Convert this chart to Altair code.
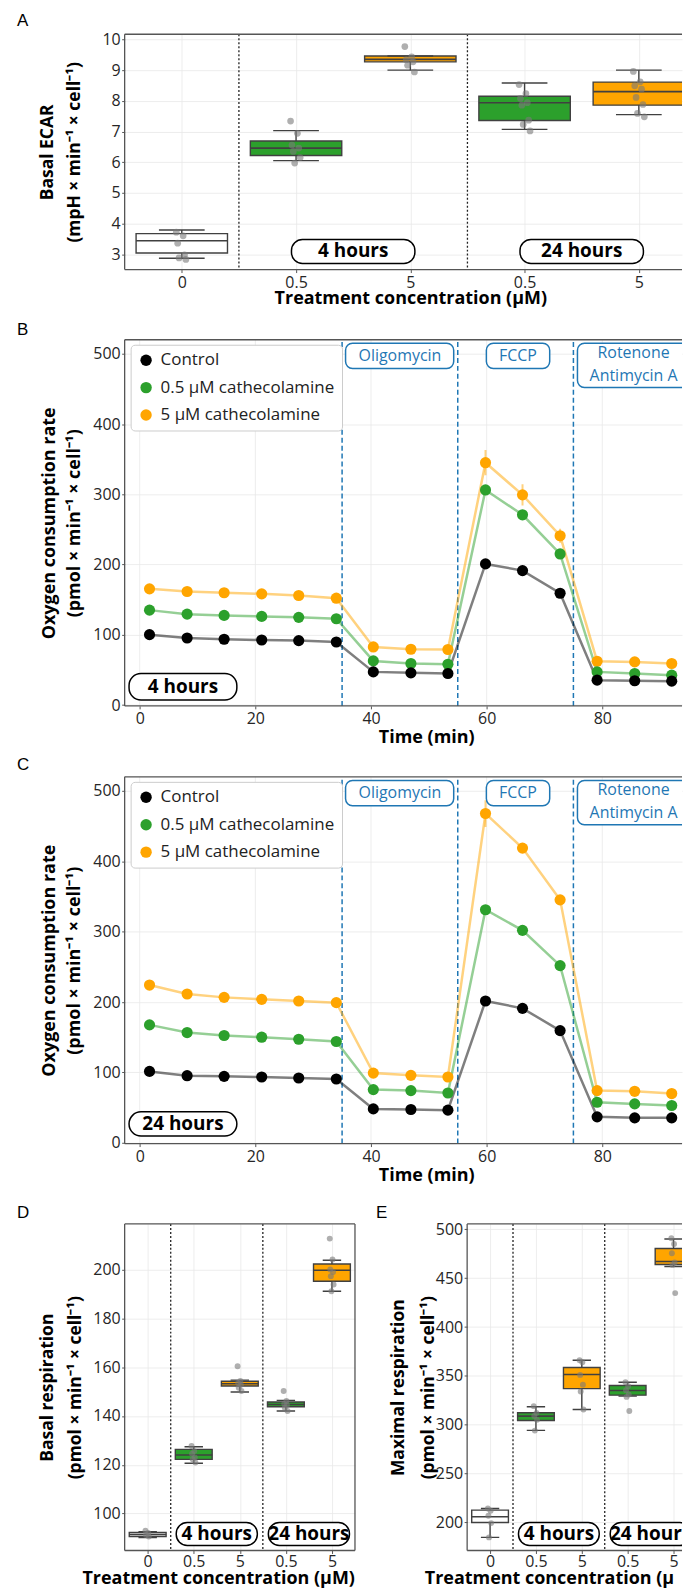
import altair as alt
import pandas as pd

FONT = "Open Sans"
GREEN = "#2ca02c"
ORANGE = "#ffa500"
BLUE = "#1f77b4"
EDGE = "#404040"
GRID = "#e9e9e9"
FRAME = "#555555"

# ---------------- categories (panels A, D, E) ----------------
cat_labels = ["0", "0.5", "5", "0.5", "5"]
cat_group = ["ctrl", "low", "high", "low", "high"]
pill_labels = ["4 hours", "24 hours"]
pill_centers = [1.5, 3.5]
sep_positions = [0.5, 2.5]

# ---------------- Panel A: basal ECAR ----------------
ecar_q1 = [3.04, 6.22, 9.27, 7.36, 7.86]
ecar_med = [3.44, 6.46, 9.35, 7.94, 8.30]
ecar_q3 = [3.67, 6.69, 9.46, 8.15, 8.61]
ecar_lo = [2.87, 6.05, 9.00, 7.07, 7.55]
ecar_hi = [3.79, 7.03, 9.46, 8.58, 9.00]
ecar_pts = [
    [3.72, 3.60, 3.36, 2.98, 2.88, 2.83],
    [7.34, 6.94, 6.56, 6.46, 6.35, 6.15, 5.97],
    [9.77, 9.43, 9.34, 9.27, 9.16, 8.94],
    [8.53, 8.24, 8.08, 7.94, 7.86, 7.37, 7.23, 7.02],
    [8.96, 8.62, 8.49, 8.38, 8.11, 7.88, 7.59, 7.48],
]

# ---------------- Panel D: basal respiration ----------------
basal_q1 = [90.6, 122.2, 152.3, 143.8, 195.2]
basal_med = [91.4, 124.0, 153.2, 144.7, 199.7]
basal_q3 = [92.2, 126.3, 154.2, 145.7, 202.3]
basal_lo = [90.2, 120.6, 149.8, 142.0, 191.1]
basal_hi = [92.6, 127.4, 154.7, 146.4, 203.8]
basal_pts = [
    [93.0, 92.0, 91.2, 90.6],
    [127.7, 125.6, 124.5, 123.0, 122.3, 120.9],
    [160.4, 154.3, 153.5, 152.8, 151.6, 150.2],
    [150.2, 146.1, 145.0, 144.5, 143.4, 142.0],
    [212.7, 204.1, 200.0, 199.0, 197.3, 193.9, 191.1],
]

# ---------------- Panel E: maximal respiration ----------------
max_q1 = [200.0, 304.4, 337.0, 330.3, 464.0]
max_med = [205.8, 308.8, 351.4, 335.0, 467.0]
max_q3 = [212.6, 312.2, 358.5, 340.1, 480.3]
max_lo = [184.7, 294.2, 315.6, 329.3, 461.9]
max_hi = [214.3, 318.4, 366.0, 343.5, 490.1]
max_pts = [
    [214.3, 212.0, 206.8, 199.3, 184.7],
    [319.0, 312.0, 309.0, 305.0, 294.0],
    [366.0, 364.0, 351.0, 341.0, 334.0, 315.6],
    [343.5, 339.5, 335.4, 331.0, 328.5, 314.0],
    [490.8, 485.0, 475.5, 466.0, 463.6, 434.7],
]

# ---------------- Panels B, C: OCR time courses ----------------
times = [1.7, 8.2, 14.6, 21.1, 27.5, 34.0, 40.4, 46.9, 53.3, 59.8, 66.2, 72.7, 79.1, 85.6, 92.0]
series_names = ["Control", "0.5 µM cathecolamine", "5 µM cathecolamine"]
series_colors = ["black", GREEN, ORANGE]

ocr4_ctrl = [100.2, 95.4, 93.6, 92.6, 91.7, 89.8, 47.2, 45.8, 44.9, 200.9, 191.4, 159.2, 35.4, 34.5, 34.0]
ocr4_low = [135.1, 129.4, 127.6, 126.2, 124.8, 122.9, 62.8, 59.1, 58.1, 306.2, 270.8, 215.1, 47.2, 44.9, 42.5]
ocr4_high = [165.4, 161.6, 159.8, 158.3, 156.0, 152.1, 82.7, 79.4, 79.0, 345.0, 299.2, 241.0, 62.4, 61.4, 59.1]
ocr4_ctrl_err = [3, 3, 3, 3, 3, 3, 2, 2, 2, 5, 5, 4, 2, 2, 2]
ocr4_low_err = [3, 3, 3, 3, 3, 3, 2, 2, 2, 6, 5, 5, 2, 2, 2]
ocr4_high_err = [3, 3, 3, 3, 3, 3, 2, 2, 2, 18, 15, 10, 2, 2, 2]

ocr24_ctrl = [101.4, 95.3, 94.4, 93.4, 92.0, 90.6, 48.1, 47.2, 46.3, 201.5, 191.0, 159.4, 36.8, 35.4, 35.4]
ocr24_low = [167.5, 156.6, 152.4, 150.0, 147.1, 143.9, 75.5, 74.1, 70.7, 331.1, 301.9, 251.8, 57.6, 55.2, 52.9]
ocr24_high = [224.1, 211.4, 206.6, 203.8, 201.5, 199.1, 99.0, 95.8, 93.4, 467.9, 418.8, 345.2, 74.1, 73.1, 69.9]
ocr24_ctrl_err = [3, 3, 3, 3, 3, 3, 2, 2, 2, 5, 5, 4, 2, 2, 2]
ocr24_low_err = [4, 4, 4, 4, 4, 4, 2, 2, 2, 6, 5, 5, 2, 2, 2]
ocr24_high_err = [4, 4, 4, 4, 4, 4, 2, 2, 2, 19, 6, 6, 2, 2, 2]

inject_times = [35, 55, 75]
inject_names = ["Oligomycin", "FCCP", "Rotenone", "Antimycin A"]
inject_text_x = [45.0, 65.4, 85.4, 85.4]
inject_text_y = [497, 497, 501, 468]
inject_box_x1 = [35.6, 59.95, 75.7]
inject_box_x2 = [54.3, 70.9, 95.1]
inject_box_y1 = [479, 479, 452]
inject_box_y2 = [515, 515, 515]
time_ticks = [0, 20, 40, 60, 80]
ocr_ticks = [0, 100, 200, 300, 400, 500]
OCR_TOP = 520
OCR_FRAME_LO = -1.2
MIN_PX = 5.8          # pixels per minute
CAT_STEP_A = 114.6    # pixels per category in panel A
CAT_STEP_DE = 46.0    # pixels per category in panels D/E
XTITLE = "Treatment concentration (µM)"
PLOT_LEFT = 124
D_W = 231
DE_GAP = 112.5
RIGHT_EDGE = 683
DE_H = 327.5


def letter_layer(letter, x, y):
    return alt.Chart(pd.DataFrame({"t": [letter]})).mark_text(
        align="left", baseline="middle", fontSize=17, font="Liberation Sans", color="black"
    ).encode(text="t:N", x=alt.value(x), y=alt.value(y))


def frame_layer(xmin, xmax, ylo, yhi, xs, ys, xaxis, yaxis, right):
    x1 = [xmin, xmin, xmin]
    x2 = [xmax, xmax, xmin]
    y1 = [yhi, ylo, ylo]
    y2 = [yhi, ylo, yhi]
    if right:
        x1.append(xmax); x2.append(xmax); y1.append(ylo); y2.append(yhi)
    return alt.Chart(pd.DataFrame({"x1": x1, "x2": x2, "y1": y1, "y2": y2})).mark_rule(
        color=FRAME, strokeWidth=1.3).encode(
        x=alt.X("x1:Q", scale=xs, axis=xaxis), x2="x2:Q",
        y=alt.Y("y1:Q", scale=ys, axis=yaxis), y2="y2:Q")


def box_panel(q1, med, q3, lo, hi, pts, ydom, yticks, ytitle, title_x, title_lh,
              pill_lo, pill_hi, pill_half, letter, letter_x, letter_y,
              width, height, dot_size, step, cut_right, xtitle_left, plot_left):
    n = len(cat_labels)
    idx = list(range(n))
    xmax = -0.5 + width / step if cut_right else n - 0.5
    bdf = pd.DataFrame({"idx": idx, "grp": cat_group, "q1": q1, "med": med,
                        "q3": q3, "lo": lo, "hi": hi})
    prow = []
    for i, vals in enumerate(pts):
        for k, v in enumerate(vals):
            prow.append({"idx": i, "k": k, "v": v})
    pdf = pd.DataFrame(prow)
    xs = alt.Scale(domain=[-0.5, xmax], nice=False, zero=False)
    ys = alt.Scale(domain=ydom, nice=False, zero=False)
    lab_expr = "[" + ",".join("'%s'" % c for c in cat_labels) + "][datum.value]"
    if xtitle_left is None:
        xaxis = alt.Axis(values=idx, labelExpr=lab_expr, title=XTITLE,
                         grid=True, titlePadding=0, titleX=2.5 * step)
    else:
        xaxis = alt.Axis(values=idx, labelExpr=lab_expr, title="", grid=True,
                         labelPadding=0.5)
    yaxis = alt.Axis(values=yticks, title=ytitle, titleX=title_x, titleY=height / 2,
                     titleAngle=270, titleAlign="center", titleBaseline="middle",
                     titleLineHeight=title_lh, grid=True)

    base = alt.Chart(bdf).transform_calculate(
        xl="datum.idx - 0.4", xr="datum.idx + 0.4",
        cl="datum.idx - 0.2", cr="datum.idx + 0.2")
    X = lambda f: alt.X(f, scale=xs, axis=xaxis)
    Y = lambda f: alt.Y(f, scale=ys, axis=yaxis)
    boxes = base.mark_rect(stroke=EDGE, strokeWidth=1.4, clip=True).encode(
        x=X("xl:Q"), x2="xr:Q", y=Y("q1:Q"), y2="q3:Q",
        fill=alt.Fill("grp:N", scale=alt.Scale(domain=["ctrl", "low", "high"],
                                               range=["white", GREEN, ORANGE]), legend=None))
    w_lo = base.mark_rule(color=EDGE, strokeWidth=1.4, clip=True).encode(
        x=X("idx:Q"), y=Y("lo:Q"), y2="q1:Q")
    w_hi = base.mark_rule(color=EDGE, strokeWidth=1.4, clip=True).encode(
        x=X("idx:Q"), y=Y("q3:Q"), y2="hi:Q")
    caps = base.transform_fold(["lo", "hi"], as_=["w", "val"]).mark_rule(
        color=EDGE, strokeWidth=1.4, clip=True).encode(
        x=X("cl:Q"), x2="cr:Q", y=Y("val:Q"))
    meds = base.mark_rule(color=EDGE, strokeWidth=1.6, clip=True).encode(
        x=X("xl:Q"), x2="xr:Q", y=Y("med:Q"))
    dots = alt.Chart(pdf).transform_calculate(
        xj="datum.idx + ((datum.k * 5) % 9 - 4) * 0.012"
    ).mark_circle(size=dot_size, color="#7a7a7a", opacity=0.6, clip=True).encode(
        x=X("xj:Q"), y=Y("v:Q"))
    seps = alt.Chart(pd.DataFrame({"s": sep_positions})).mark_rule(
        color="#222222", strokeDash=[2, 2], strokeWidth=1.3).encode(x=X("s:Q"))
    pill_df = pd.DataFrame({"c": pill_centers, "t": pill_labels,
                            "y1": [pill_lo] * 2, "y2": [pill_hi] * 2})
    pill_base = alt.Chart(pill_df).transform_calculate(
        a="datum.c - %f" % pill_half, b="datum.c + %f" % pill_half,
        ym="(datum.y1 + datum.y2) / 2")
    pills = pill_base.mark_rect(fill="white", stroke="black", strokeWidth=1.5,
                                cornerRadius=11, clip=True).encode(
        x=X("a:Q"), x2="b:Q", y=Y("y1:Q"), y2="y2:Q")
    pill_txt = pill_base.mark_text(fontSize=19, fontWeight="bold", color="black",
                                   baseline="middle", clip=True).encode(
        x=X("c:Q"), y=Y("ym:Q"), text="t:N")
    frame = frame_layer(-0.5, xmax, ydom[0], ydom[1], xs, ys, xaxis, yaxis, not cut_right)
    layers = [boxes, w_lo, w_hi, caps, meds, dots, seps, pills, pill_txt, frame,
              letter_layer(letter, letter_x, letter_y)]
    if xtitle_left is not None:
        layers.append(alt.Chart(pd.DataFrame({"t": [XTITLE]})).mark_text(
            align="left", baseline="middle", fontSize=18, fontWeight="bold", font=FONT,
            color="black", limit=RIGHT_EDGE - plot_left - xtitle_left, ellipsis="\u200a"
        ).encode(text="t:N", x=alt.value(xtitle_left), y=alt.value(height + 28.5)))
    return alt.layer(*layers).properties(width=width, height=height)


def ocr_panel(vals, errs, height, ext, pill_lo, pill_hi, pill_text, letter, letter_y, width):
    rows = []
    nser = len(series_names)
    for s_i, (name, v_list, e_list) in enumerate(zip(series_names, vals, errs)):
        for t, v, e in zip(times, v_list, e_list):
            rows.append({"t": t, "v": v, "elo": v - e, "ehi": v + e,
                         "series": name, "ord": nser - s_i})
    df = pd.DataFrame(rows)
    px_per = height / (OCR_TOP - OCR_FRAME_LO)
    ylo = OCR_FRAME_LO - ext / px_per
    tmin = -2.6
    tmax = tmin + width / MIN_PX
    xs = alt.Scale(domain=[tmin, tmax], nice=False, zero=False)
    ys = alt.Scale(domain=[ylo, OCR_TOP], nice=False, zero=False)
    cscale = alt.Scale(domain=series_names, range=series_colors)
    xaxis = alt.Axis(values=time_ticks, title="Time (min)", grid=False, offset=-ext,
                     titlePadding=2.5, titleX=287.5 + 15)
    yaxis = alt.Axis(values=ocr_ticks, grid=True,
                     title=["Oxygen consumption rate", "(pmol × min⁻¹ × cell⁻¹)"],
                     titleX=-75, titleY=height / 2, titleAngle=270, titleAlign="center",
                     titleBaseline="middle", titleLineHeight=25, titleFontSize=18)
    X = lambda f: alt.X(f, scale=xs, axis=xaxis)
    Y = lambda f: alt.Y(f, scale=ys, axis=yaxis)

    xgrid = alt.Chart(pd.DataFrame({"x": time_ticks, "y1": OCR_FRAME_LO, "y2": OCR_TOP})).mark_rule(
        color=GRID, strokeWidth=0.8).encode(x=X("x:Q"), y=Y("y1:Q"), y2="y2:Q")
    dashes = alt.Chart(pd.DataFrame({"x": inject_times, "y1": OCR_FRAME_LO, "y2": OCR_TOP})).mark_rule(
        color=BLUE, strokeWidth=1.5, strokeDash=[5, 3]).encode(x=X("x:Q"), y=Y("y1:Q"), y2="y2:Q")
    layers = [xgrid, dashes]
    for name, col in zip(series_names, series_colors):
        sub = alt.Chart(df).transform_filter(alt.datum.series == name)
        layers.append(sub.mark_line(strokeWidth=2.5, opacity=0.5, color=col, clip=True).encode(
            x=X("t:Q"), y=Y("v:Q")))
        layers.append(sub.mark_rule(strokeWidth=2, opacity=0.5, color=col, clip=True).encode(
            x=X("t:Q"), y=Y("elo:Q"), y2="ehi:Q"))
    pts = alt.Chart(df).mark_circle(size=125, opacity=1, clip=True).encode(
        x=X("t:Q"), y=Y("v:Q"),
        color=alt.Color("series:N", scale=cscale, legend=alt.Legend(
            title=None, orient="none", legendX=6, legendY=5, direction="vertical",
            fillColor="white", strokeColor="#cccccc", cornerRadius=4, padding=7,
            symbolSize=130, symbolType="circle", symbolStrokeWidth=0, symbolOpacity=1,
            labelFontSize=17, labelFont=FONT, labelColor="#222222", rowPadding=9.5,
            labelOffset=6, labelLimit=400)),
        order=alt.Order("ord:Q"))
    ibox = alt.Chart(pd.DataFrame({"x1": inject_box_x1, "x2": inject_box_x2,
                                   "y1": inject_box_y1, "y2": inject_box_y2})).mark_rect(
        fill="white", stroke=BLUE, strokeWidth=1.5, cornerRadius=7, clip=True).encode(
        x=X("x1:Q"), x2="x2:Q", y=Y("y1:Q"), y2="y2:Q")
    itxt = alt.Chart(pd.DataFrame({"x": inject_text_x, "y": inject_text_y,
                                   "t": inject_names})).mark_text(
        color=BLUE, fontSize=16, baseline="middle", clip=True).encode(
        x=X("x:Q"), y=Y("y:Q"), text="t:N")
    pill_df = pd.DataFrame({"x1": [-1.84], "x2": [16.8], "y1": [pill_lo], "y2": [pill_hi],
                            "t": [pill_text]})
    pill_base = alt.Chart(pill_df).transform_calculate(
        xm="(datum.x1 + datum.x2) / 2", ym="(datum.y1 + datum.y2) / 2")
    pill = pill_base.mark_rect(fill="white", stroke="black", strokeWidth=1.5,
                               cornerRadius=12).encode(
        x=X("x1:Q"), x2="x2:Q", y=Y("y1:Q"), y2="y2:Q")
    pill_txt = pill_base.mark_text(fontSize=19, fontWeight="bold", color="black",
                                   baseline="middle").encode(
        x=X("xm:Q"), y=Y("ym:Q"), text="t:N")
    frame = frame_layer(tmin, tmax, OCR_FRAME_LO, OCR_TOP, xs, ys, xaxis, yaxis, False)
    layers += [pts, ibox, itxt, pill, pill_txt, frame, letter_layer(letter, -108, letter_y)]
    return alt.layer(*layers).properties(width=width, height=height + ext)


W_MAIN = RIGHT_EDGE - PLOT_LEFT
E_LEFT = PLOT_LEFT + D_W + DE_GAP
A = box_panel(ecar_q1, ecar_med, ecar_q3, ecar_lo, ecar_hi, ecar_pts,
              [2.5, 10.17], [3, 4, 5, 6, 7, 8, 9, 10],
              ["Basal ECAR", "(mpH × min⁻¹ × cell⁻¹)"], -77, 27,
              2.70, 3.48, 0.54, "A", -108, -13.7, W_MAIN, 236, 45, CAT_STEP_A, True,
              None, PLOT_LEFT)
B = ocr_panel([ocr4_ctrl, ocr4_low, ocr4_high],
              [ocr4_ctrl_err, ocr4_low_err, ocr4_high_err],
              367.2, 0, 7.1, 45, "4 hours", "B", -10, W_MAIN)
C = ocr_panel([ocr24_ctrl, ocr24_low, ocr24_high],
              [ocr24_ctrl_err, ocr24_low_err, ocr24_high_err],
              367.8, 9.4, 9.5, 43.9, "24 hours", "C", -11.4, W_MAIN)
D = box_panel(basal_q1, basal_med, basal_q3, basal_lo, basal_hi, basal_pts,
              [84.86, 218.7], [100, 120, 140, 160, 180, 200],
              ["Basal respiration", "(pmol × min⁻¹ × cell⁻¹)"], -77, 28,
              86.9, 96.3, 0.88, "D", -108, -10.6, D_W, DE_H, 35, 46.2, False,
              -42.3, PLOT_LEFT)
E = box_panel(max_q1, max_med, max_q3, max_lo, max_hi, max_pts,
              [171.3, 505.5], [200, 250, 300, 350, 400, 450, 500],
              ["Maximal respiration", "(pmol × min⁻¹ × cell⁻¹)"], -69, 30,
              176.4, 199.9, 0.88, "E", -91.5, -10.6, RIGHT_EDGE - E_LEFT, DE_H, 35,
              CAT_STEP_DE, True, -42.5, E_LEFT)

chart = alt.vconcat(
    A, B, C,
    alt.hconcat(D, E, spacing=DE_GAP, bounds="flush"),
    spacing=70.4, bounds="flush",
).resolve_scale(color="independent").properties(
    padding={"left": 8, "top": 0, "right": 0, "bottom": 0}
).configure(font=FONT).configure_view(stroke="transparent").configure_axis(
    labelFont=FONT, titleFont=FONT, labelFontSize=16,
    titleFontWeight="bold", labelColor="#262626", titleColor="black",
    tickSize=3, tickColor="#555555", tickWidth=1, domain=False,
    gridColor=GRID, gridWidth=0.8, labelPadding=1.5, labelFlush=False,
).configure_axisX(titleFontSize=18).configure_axisY(titleFontSize=17.5)

chart.save("out.html", embed_options={"renderer": "svg", "actions": False})
